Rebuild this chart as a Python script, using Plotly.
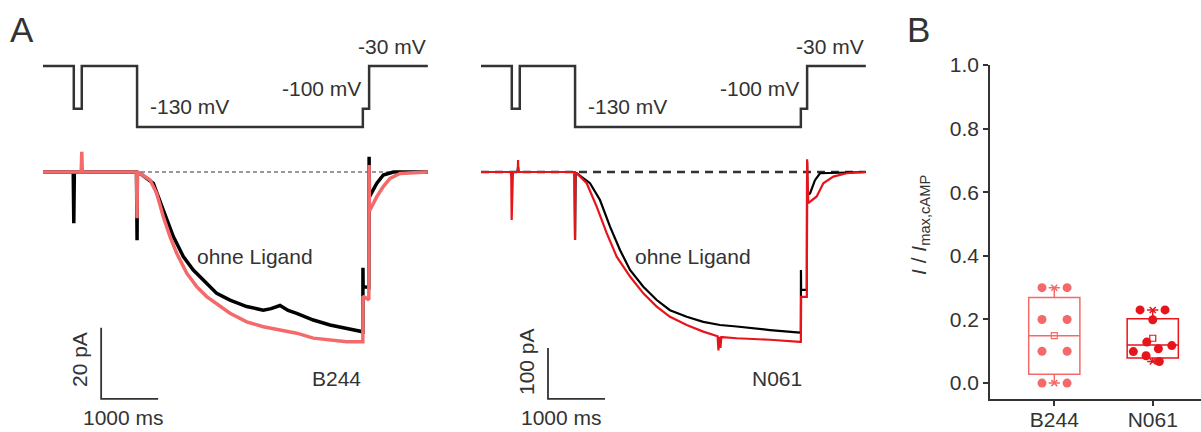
import plotly.graph_objects as go

W, H = 1201, 432
FONT = "Liberation Sans, Arial, sans-serif"
TXT = "#333333"
SALMON = "#F46A6A"
RED = "#E8141C"
FS = 21

# ---------------- data ----------------
# voltage protocol (ms, mV)
prot_t = [0, 540, 540, 680, 680, 1650, 1650, 5610, 5610, 5720, 5720, 6750]
prot_v = [-30, -30, -100, -100, -30, -30, -130, -130, -100, -100, -30, -30]

# B244 currents (ms, pA)
b_black_t = [0, 530, 540, 545, 550, 1640, 1650, 1655, 1701, 1935, 2110, 2286, 2461, 2636, 2812,
             3047, 3280, 3573, 3864, 4000, 4157, 4300, 4450, 4741, 5034, 5327, 5610, 5612, 5615,
             5715, 5720, 5722, 5725, 5853, 5969, 6144, 6750]
b_black_i = [0, 0, -14.4, 0, 0, 0, -19.2, -0.5, -0.4, -3.2, -10.7, -18.2, -23.8, -27.6, -30.4,
             -34.2, -36.1, -37.9, -38.9, -38.5, -37.6, -39.0, -39.8, -41.7, -43.1, -44.0, -45.0, -27.0, -32.3,
             -32.5, 4.3, -7.0, -7.0, -3.2, -0.85, 0, 0]
b_red_t = [0, 670, 680, 690, 1640, 1650, 1655, 1701, 1877, 1994, 2110, 2228, 2345, 2521, 2696,
           2871, 3047, 3280, 3573, 3864, 4157, 4450, 4741, 5034, 5327, 5610, 5612, 5715, 5720,
           5725, 5765, 5853, 5969, 6087, 6262, 6750]
b_red_i = [0, 0, 5.7, 0, 0, -13.0, -0.5, -0.4, -2.25, -6.0, -12.6, -18.2, -22.9, -28.5, -32.3,
           -35.1, -37.0, -39.8, -42.2, -43.6, -44.5, -45.4, -46.8, -47.3, -47.8, -47.8, -35.0, -36.0, 2.0,
           -11.0, -9.8, -7.0, -4.1, -1.8, -0.4, 0]

# N061 currents (ms, pA)
n_black_t = [0, 530, 540, 550, 640, 650, 660, 1640, 1650, 1660, 1679, 1912, 2087, 2263, 2438, 2614,
             2847, 3082, 3315, 3608, 3899, 4192, 4485, 4776, 5069, 5595, 5610, 5612, 5615, 5715,
             5720, 5725, 5771, 5858, 5946, 6750]
n_black_i = [0, 0, -10, 0, 0, 10, 0, 0, -133, -2, -2.5, -22, -55, -107, -153, -192,
             -225, -251, -271, -284, -294, -300, -303, -307, -310, -315, -315, -192, -231, -231,
             20, -45, -42, -16, -2.5, 0]
n_red_t = [0, 530, 538, 546, 560, 645, 650, 655, 1640, 1649, 1655, 1679, 1854, 2029, 2205, 2380,
           2614, 2847, 3082, 3315, 3608, 3899, 4150, 4165, 4180, 4200, 4215, 4230, 4485, 4776, 5069,
           5595, 5610, 5615, 5715, 5720, 5740, 5888, 6004, 6180, 6414, 6750]
n_red_i = [0, 0, -94, -10, 0, 0, 23.5, 0, 0, -133, -2, -2.5, -22, -68, -120, -166,
           -205, -238, -264, -284, -300, -313, -322, -350, -323, -345, -324, -324, -326, -327, -329,
           -333, -333, -245, -245, 25, -61, -48, -22, -9, -2.5, 0]

# Panel B
groups = ["B244", "N061"]
b244_vals = [0.30, 0.30, 0.20, 0.20, 0.10, 0.10, 0.0, 0.0]
n061_vals = [0.230, 0.230, 0.199, 0.129, 0.118, 0.108, 0.099, 0.086, 0.068]
box_q1 = [0.028, 0.0785]
box_median = [0.149, 0.120]
box_q3 = [0.269, 0.202]
box_low = [0.0, 0.068]
box_high = [0.30, 0.23]
box_mean = [0.149, 0.141]

# jitter offsets (layout only)
b244_dx = [-0.125, 0.13, -0.125, 0.13, -0.125, 0.13, -0.125, 0.13]
n061_dx = [-0.129, 0.125, 0.0, -0.061, 0.193, 0.057, -0.197, -0.068, 0.067]

# ---------------- figure ----------------
fig = go.Figure()

def px(x):
    return x / W

def py(y):
    return 1 - y / H

# protocol traces
for xa, ya in (("x", "y"), ("x2", "y3")):
    fig.add_trace(go.Scatter(x=prot_t, y=prot_v, mode="lines", xaxis=xa, yaxis=ya,
                             line=dict(color="#333333", width=2.5), hoverinfo="skip"))

# dashed baselines
fig.add_trace(go.Scatter(x=[0, 6750], y=[0, 0], mode="lines", xaxis="x", yaxis="y2",
                         line=dict(color="#333333", width=1.2, dash="4px,3px"), hoverinfo="skip"))
fig.add_trace(go.Scatter(x=[0, 6750], y=[0, 0], mode="lines", xaxis="x2", yaxis="y4",
                         line=dict(color="#333333", width=2.5, dash="8px,6px"), hoverinfo="skip"))

# current traces
fig.add_trace(go.Scatter(x=b_black_t, y=b_black_i, mode="lines", xaxis="x", yaxis="y2",
                         line=dict(color="black", width=3.5), hoverinfo="skip"))
fig.add_trace(go.Scatter(x=b_red_t, y=b_red_i, mode="lines", xaxis="x", yaxis="y2",
                         line=dict(color=SALMON, width=3.5), hoverinfo="skip"))
fig.add_trace(go.Scatter(x=n_black_t, y=n_black_i, mode="lines", xaxis="x2", yaxis="y4",
                         line=dict(color="black", width=2.2), hoverinfo="skip"))
fig.add_trace(go.Scatter(x=n_red_t, y=n_red_i, mode="lines", xaxis="x2", yaxis="y4",
                         line=dict(color=RED, width=2.2), hoverinfo="skip"))

# scale bars
fig.add_trace(go.Scatter(x=[1020, 1020, 2020], y=[-43.9, -63.9, -63.9], mode="lines",
                         xaxis="x", yaxis="y2", line=dict(color="#333333", width=1.8), hoverinfo="skip"))
fig.add_trace(go.Scatter(x=[1175, 1175, 2175], y=[-345, -445, -445], mode="lines",
                         xaxis="x2", yaxis="y4", line=dict(color="#333333", width=1.8), hoverinfo="skip"))

# panel B boxes
cols = [SALMON, RED]
for k in range(2):
    fig.add_trace(go.Box(x=[k], q1=[box_q1[k]], median=[box_median[k]], q3=[box_q3[k]],
                         lowerfence=[box_low[k]], upperfence=[box_high[k]],
                         width=0.52, whiskerwidth=0.22, fillcolor="rgba(255,255,255,0)",
                         line=dict(color=cols[k], width=1.5), xaxis="x3", yaxis="y5",
                         hoverinfo="skip", boxpoints=False))
    fig.add_trace(go.Scatter(x=[k, k], y=[box_low[k], box_high[k]], mode="markers",
                             xaxis="x3", yaxis="y5",
                             marker=dict(symbol="x-thin-open", size=6, color=cols[k],
                                         line=dict(color=cols[k], width=1.5)),
                             hoverinfo="skip"))
    fig.add_trace(go.Scatter(x=[k], y=[box_mean[k]], mode="markers", xaxis="x3", yaxis="y5",
                             marker=dict(symbol="square-open", size=6, color=cols[k],
                                         line=dict(color=cols[k], width=1.2)),
                             hoverinfo="skip"))

fig.add_trace(go.Scatter(x=[0 + d for d in b244_dx], y=b244_vals, mode="markers",
                         xaxis="x3", yaxis="y5", marker=dict(color=SALMON, size=9), hoverinfo="skip"))
fig.add_trace(go.Scatter(x=[1 + d for d in n061_dx], y=n061_vals, mode="markers",
                         xaxis="x3", yaxis="y5", marker=dict(color=RED, size=9), hoverinfo="skip"))

# ---------------- axes ----------------
ms_per_px = 17.54
hidden = dict(visible=False, showgrid=False, zeroline=False, fixedrange=True, automargin=False)

layout = dict(
    template="none",
    width=W, height=H, margin=dict(l=0, r=0, t=0, b=0, pad=0, autoexpand=False),
    paper_bgcolor="white", plot_bgcolor="rgba(0,0,0,0)", showlegend=False,
    font=dict(family=FONT, color=TXT, size=FS),
    xaxis=dict(domain=[0, 1], range=[-43 * ms_per_px, (W - 43) * ms_per_px], **hidden),
    xaxis2=dict(domain=[0, 1], range=[-481 * ms_per_px, (W - 481) * ms_per_px], **hidden),
    yaxis=dict(domain=[0, 1], range=[-30 - (H - 66) * 1.639, -30 + 66 * 1.639], **hidden),
    yaxis2=dict(domain=[0, 1], range=[(172 - H) / 3.55, 172 / 3.55], anchor="x", **hidden),
    yaxis3=dict(domain=[0, 1], range=[-30 - (H - 66) * 1.639, -30 + 66 * 1.639], anchor="x2", **hidden),
    yaxis4=dict(domain=[0, 1], range=[(172 - H) * 1.961, 172 * 1.961], anchor="x2", **hidden),
    xaxis3=dict(domain=[px(990), 1.0], range=[-0.653, 1.49], anchor="y5", automargin=False,
                tickmode="array", tickvals=[0, 1], ticktext=groups, ticklabelstandoff=-4,
                showline=True, linecolor="#333333", linewidth=1.5,
                ticks="outside", ticklen=5, tickwidth=1.5, tickcolor="#333333",
                showgrid=False, zeroline=False, tickfont=dict(size=FS, color=TXT)),
    yaxis5=dict(domain=[py(399), py(65)], range=[-0.05, 1.0], anchor="x3", automargin=False,
                tickmode="array", tickvals=[0, 0.2, 0.4, 0.6, 0.8, 1.0],
                ticktext=["0.0", "0.2", "0.4", "0.6", "0.8", "1.0"],
                showline=True, linecolor="#333333", linewidth=1.5,
                ticks="outside", ticklen=5, tickwidth=1.5, tickcolor="#333333",
                showgrid=False, zeroline=False, tickfont=dict(size=FS, color=TXT)),
)
fig.update_layout(**layout)

# ---------------- text ----------------
def txt(x, y, s, size=FS, xanchor="left", yanchor="middle", angle=0):
    fig.add_annotation(x=px(x), y=py(y), xref="paper", yref="paper", text=s, showarrow=False,
                       xanchor=xanchor, yanchor=yanchor, textangle=angle,
                       font=dict(size=size, color=TXT, family=FONT))

txt(8, 29, "A", size=35)
txt(905, 29, "B", size=35)
for off in (0, 438):
    txt(148 + off, 107, "-130 mV")
    txt(280 + off, 88, "-100 mV")
    txt(356 + off, 47, "-30 mV")
    txt(195 + off, 256, "ohne Ligand")
    txt(81 + off, 417, "1000 ms")
txt(363, 378, "B244", xanchor="right")
txt(804, 378, "N061", xanchor="right")
txt(79, 360, "20 pA", angle=-90, xanchor="center")
txt(526, 362, "100 pA", angle=-90, xanchor="center")
txt(920, 225, "<i>I</i> / <i>I</i><sub>max,cAMP</sub>", angle=-90, xanchor="center")

fig.write_html("out.html", config={"displayModeBar": False},
               post_script="document.body.style.margin='0';")
